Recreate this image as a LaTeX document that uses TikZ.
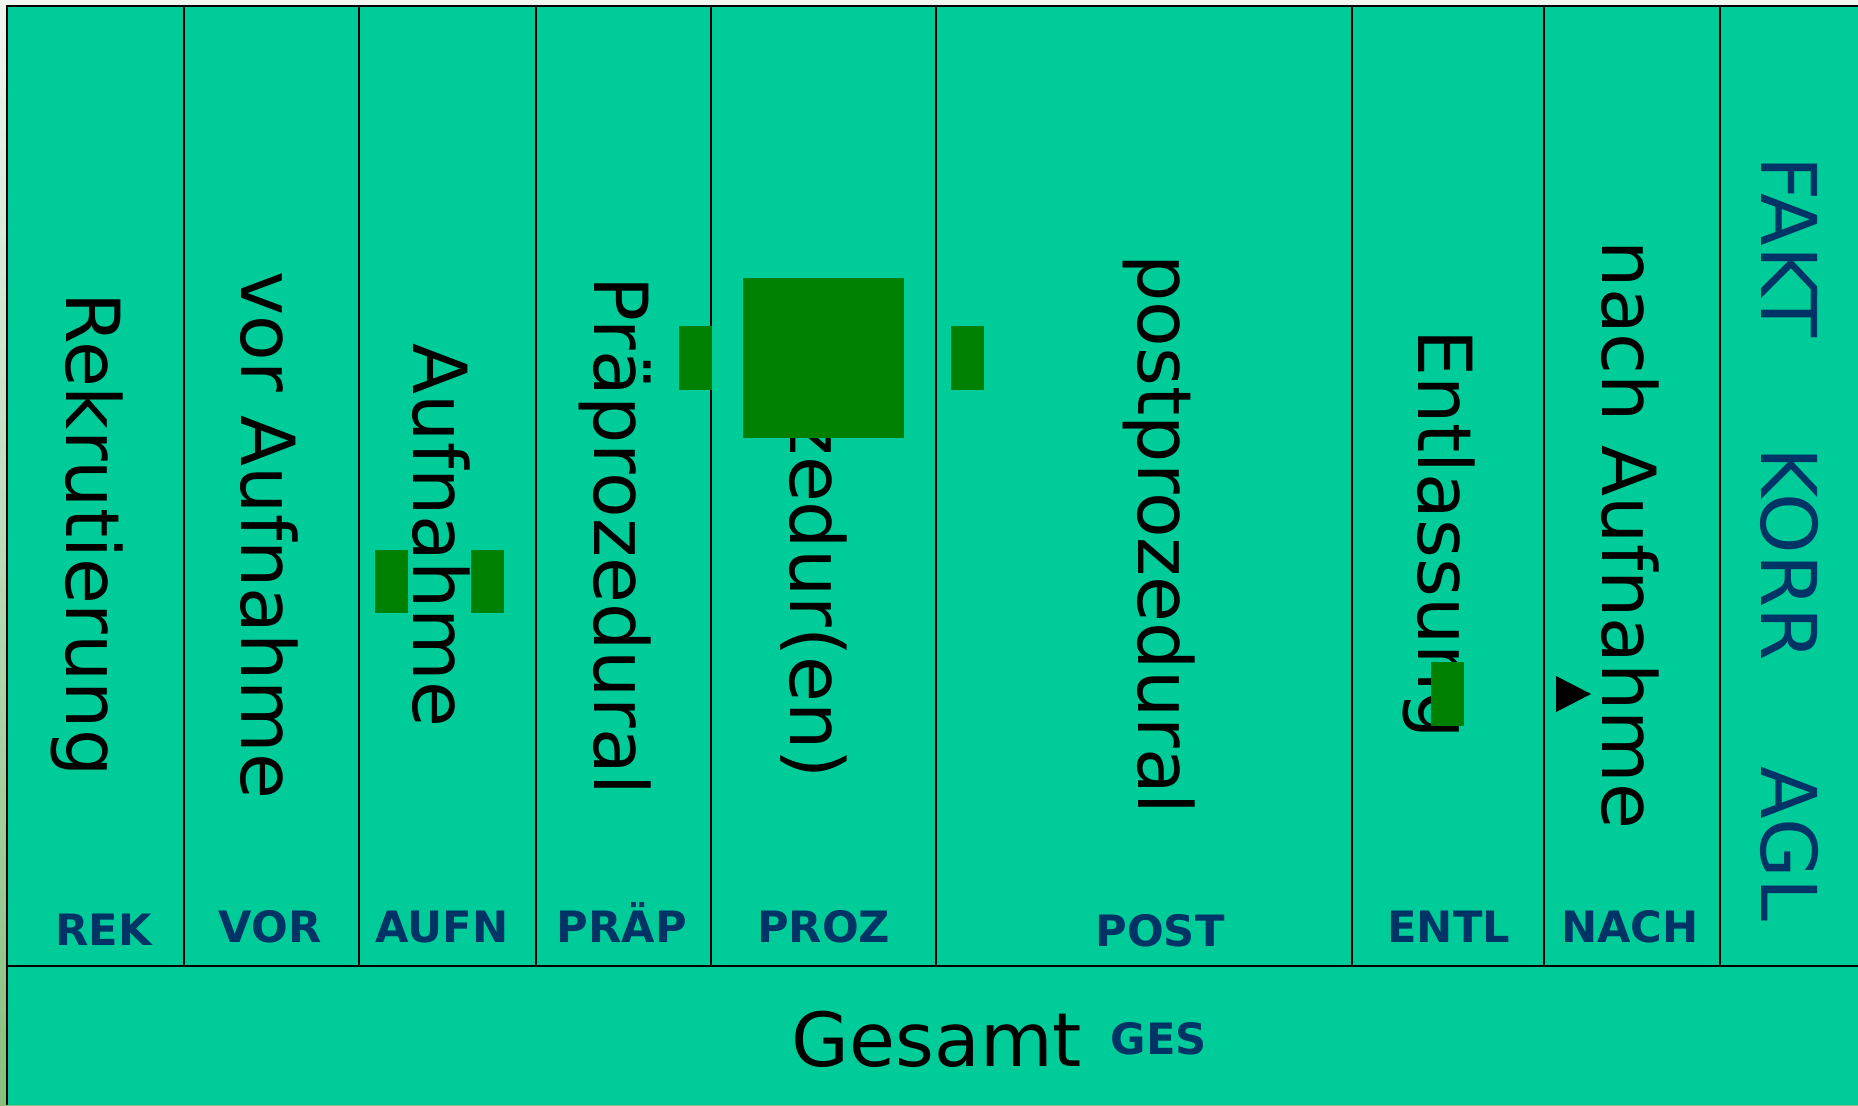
\documentclass[tikz,border=0pt]{standalone}
\usepackage{fontspec}
\setmainfont{DejaVu Sans}
\definecolor{tealbg}{RGB}{0,204,153}
\definecolor{boxgreen}{RGB}{0,128,0}
\definecolor{labelblue}{RGB}{0,51,102}
\definecolor{slidetop}{RGB}{240,246,240}
\definecolor{slidebottom}{RGB}{134,192,124}
\tikzstyle{Title} = [anchor=base, inner sep=0pt,
font=\fontsize{37.3}{44}\selectfont]
\tikzstyle{Phase} = [Title, rotate=-90]
\tikzstyle{Facet} = [Phase, text=labelblue, font=\fontsize{38.5}{44}\selectfont]
\tikzstyle{Code} = [anchor=base, inner sep=0pt, text=labelblue,
font=\fontsize{21.6}{26}\selectfont\bfseries]
\tikzstyle{Mark} = [fill=boxgreen]
\tikzstyle{Rule} = [line width=1pt]

\begin{document}
\begin{tikzpicture}[x=0.5pt, y=-0.5pt]
    \useasboundingbox (0,0) rectangle (1858,1105);
    \shade[top color=slidetop, bottom color=slidebottom] (0,0) rectangle (1858,1105);
    \fill[tealbg] (7,6) rectangle (1858,1105);
    % frame and columns
    \draw[Rule] (1858,6) -- (7,6) -- (7,1105);
    \draw[Rule] (7,966) -- (1858,966);
    \draw[Rule] (183.7,6) -- (183.7,966) (359.4,6) -- (359.4,966)
        (535.5,6) -- (535.5,966) (711.3,6) -- (711.3,966)
        (936,6) -- (936,966) (1352,6) -- (1352,966)
        (1543.5,6) -- (1543.5,966) (1719.6,6) -- (1719.6,966);
    % phases
    \node [Phase] (rek) at (66,534.5) {Rekrutierung};
    \node [Phase] (vor) at (241,535.5) {vor Aufnahme};
    \node [Phase] (aufn) at (413,535.5) {Aufnahme};
    \node [Phase] (praep) at (594,535.5) {Präprozedural};
    \node [Phase] (proz) at (790,538.5) {Prozedur(en)};
    \node [Phase] (post) at (1138.6,534.5) {postprozedural};
    \node [Phase] (entl) at (1418.3,534) {Entlassung};
    \node [Phase] (nach) at (1602,535) {nach Aufnahme};
    \node [Facet] (fakt) at (1761.7,247) {FAKT};
    \node [Facet] (korr) at (1761.7,554) {KORR};
    \node [Facet] (agl) at (1761.7,843.9) {AGL};
    % codes
    \node [Code] (rekC) at (103.8,945) {REK};
    \node [Code] (vorC) at (270,942.7) {VOR};
    \node [Code] (aufnC) at (442.2,942.7) {AUFN};
    \node [Code] (praepC) at (622,942.7) {PRÄP};
    \node [Code] (prozC) at (823.6,942.7) {PROZ};
    \node [Code] (postC) at (1160,946.7) {POST};
    \node [Code] (entlC) at (1448.7,942.7) {ENTL};
    \node [Code] (nachC) at (1630,942.7) {NACH};
    \node [Title] (ges) at (937,1066.7) {Gesamt};
    \node [Code] (gesC) at (1159,1054) {GES};
    % markers
    \fill[Mark] (375,550) rectangle (408,613);
    \fill[Mark] (471,550) rectangle (504,613);
    \fill[Mark] (679,326) rectangle (712,390);
    \fill[Mark] (743,278) rectangle (904,438);
    \fill[Mark] (951,326) rectangle (984,390);
    \fill[Mark] (1431,662) rectangle (1464,726);
    \fill (1556,676) -- (1591,694) -- (1556,712) -- cycle;
\end{tikzpicture}
\end{document}
